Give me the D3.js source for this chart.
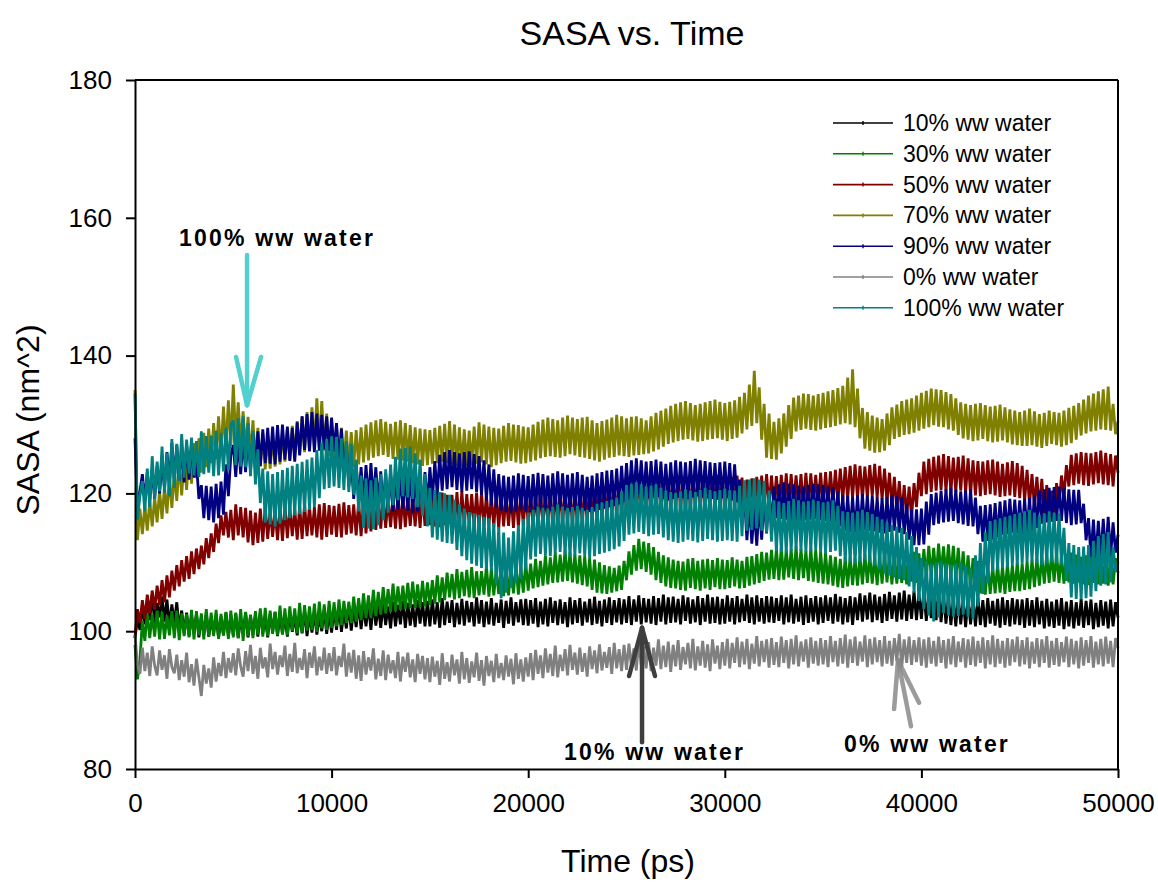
<!DOCTYPE html>
<html>
<head>
<meta charset="utf-8">
<title>SASA vs. Time</title>
<script src="https://cdn.jsdelivr.net/npm/d3@7"></script>
<style>
  body { margin: 0; background: #ffffff; }
  svg text { font-family: "Liberation Sans", Arial, Helvetica, sans-serif; fill: #000; }
</style>
</head>
<body>
<svg id="chart" width="1158" height="884"></svg>
<script>
// ---- Data: SASA (nm^2) sampled every 125 ps from 0 to 50000 ps ----
const timeStep = 125;

const seriesNames = ["10% ww water", "30% ww water", "50% ww water", "70% ww water",
                     "90% ww water", "0% ww water", "100% ww water"];
const seriesColors = ["#000000", "#008000", "#800000", "#808000", "#000080", "#808080", "#008080"];

const sasa10 = [
  99.0,101.8,100.2,103.6,101.0,104.4,101.6,105.3,101.2,104.1,102.0,105.0,101.4,104.6,100.8,103.9,101.1,104.2,100.3,103.0,
  99.6,102.7,99.3,102.2,99.8,102.5,99.1,102.0,99.5,102.6,99.2,101.8,99.7,102.4,99.0,102.1,99.4,102.7,99.2,102.3,
  99.4,102.5,99.0,101.9,99.6,102.7,99.1,102.2,99.5,102.4,99.2,102.9,99.7,102.0,99.1,102.6,99.8,102.8,99.3,102.5,
  99.6,102.3,99.2,102.7,99.9,102.1,99.4,102.6,99.7,103.0,99.3,102.4,99.8,102.8,99.5,102.2,100.0,103.1,99.6,102.7,
  99.8,103.2,100.2,103.5,99.9,103.0,100.4,103.8,100.1,103.4,100.6,104.1,100.3,103.6,100.7,103.9,100.2,104.2,100.8,103.7,
  100.5,104.0,100.9,103.6,100.4,104.3,100.7,103.8,101.0,104.4,100.5,104.1,100.8,103.9,100.6,104.5,101.1,104.2,100.7,104.4,
  100.7,104.6,101.0,104.2,100.5,104.8,100.9,104.3,101.2,104.5,100.6,104.1,101.0,104.7,100.8,104.4,101.3,104.2,100.7,104.9,
  101.1,104.5,100.6,104.3,101.0,104.8,100.8,104.1,101.2,104.6,100.5,104.4,101.1,104.9,100.8,104.2,101.3,104.6,100.9,104.7,
  100.8,104.5,101.1,104.8,100.6,104.3,101.0,104.7,100.7,104.9,101.2,104.4,100.9,104.6,101.1,104.2,100.6,104.9,101.0,104.5,
  101.2,104.8,100.8,104.3,101.3,104.7,100.9,105.0,101.1,104.4,100.7,104.6,101.2,104.9,100.9,104.5,101.3,104.8,101.0,104.6,
  101.2,105.1,100.9,104.6,101.4,105.2,101.0,104.8,101.3,104.7,101.1,105.1,100.9,104.8,101.4,105.3,101.0,104.9,101.2,105.0,
  101.3,104.7,101.0,105.2,101.5,104.9,101.1,104.6,101.3,105.1,100.9,104.8,101.4,105.3,101.1,104.9,101.2,105.0,101.0,104.7,
  101.1,105.2,101.4,104.8,101.0,105.1,101.3,104.7,101.5,105.3,101.2,104.9,101.0,105.2,101.4,104.8,101.1,105.1,101.3,105.0,
  101.2,104.8,101.5,105.2,101.0,104.9,101.3,105.3,101.1,104.7,101.4,105.0,100.9,105.2,101.2,104.8,101.4,105.1,101.0,104.9,
  101.2,105.2,101.5,104.9,101.1,105.4,101.4,105.0,101.0,104.8,101.3,105.1,100.9,104.9,101.6,105.5,101.4,105.2,101.7,105.6,
  101.3,105.3,101.6,105.0,101.2,105.4,101.5,105.7,101.8,105.2,101.4,105.6,101.7,105.9,101.5,105.3,101.8,105.8,101.6,105.5,
  101.8,105.9,101.5,105.5,101.9,106.2,101.6,105.7,101.3,105.3,101.1,105.1,100.9,104.8,100.7,105.0,101.0,104.7,100.6,104.9,
  101.0,104.6,100.7,104.9,100.9,104.5,100.6,104.8,101.1,104.4,100.8,104.7,100.5,104.9,100.9,104.5,100.7,104.8,101.0,104.6,
  100.9,104.6,100.5,104.8,100.8,104.5,100.6,104.9,101.0,104.4,100.4,104.7,100.7,104.3,100.5,104.6,100.8,104.8,100.3,104.3,
  100.7,104.5,100.4,104.2,100.8,104.7,100.5,104.4,100.9,104.6,100.3,104.1,100.6,104.5,100.8,104.3,100.4,104.6,100.7,104.2,
  102.0
];

const sasa30 = [
  98.0,93.0,95.8,101.5,98.6,102.7,99.0,102.4,99.2,103.0,98.8,102.8,98.9,102.3,99.4,102.9,99.0,103.0,98.7,102.6,
  99.3,102.5,99.1,103.1,98.8,102.9,99.4,102.6,98.8,103.2,99.2,102.7,99.3,103.1,98.9,102.5,99.4,102.8,98.9,103.0,
  99.1,102.7,99.0,103.2,98.6,102.8,99.3,102.4,99.0,102.9,99.5,103.3,99.2,103.4,99.3,103.0,99.6,102.8,99.4,103.7,
  99.5,103.3,99.4,103.6,100.0,103.3,99.7,104.1,99.8,103.8,100.1,103.6,100.2,104.0,99.9,104.3,100.4,103.9,100.2,104.4,
  100.5,104.2,100.7,104.6,100.9,104.4,101.2,104.3,101.2,105.0,101.4,104.8,101.6,105.5,101.9,105.2,101.9,106.0,102.2,105.7,
  102.4,106.4,102.6,106.1,102.8,106.9,102.9,106.5,103.1,106.6,103.2,107.0,103.3,107.2,103.4,106.8,103.5,107.3,103.6,107.1,
  103.8,107.4,104.0,108.1,104.2,107.8,104.5,108.5,104.9,108.3,104.6,109.0,104.8,108.6,105.1,108.9,104.9,109.3,104.8,108.7,
  105.2,108.7,105.3,109.5,105.0,109.1,105.2,108.9,105.4,109.4,105.1,109.6,105.2,109.2,105.5,109.7,105.3,109.4,105.6,109.9,
  105.9,109.8,106.2,110.5,106.4,110.2,106.6,111.0,106.8,110.7,107.0,111.4,107.1,111.1,107.2,111.8,107.3,111.5,107.1,111.2,
  106.9,111.0,106.7,110.9,106.5,110.6,106.0,110.4,105.6,110.0,105.5,109.6,105.4,109.4,105.6,109.2,105.8,109.5,106.0,110.2,
  107.4,111.6,108.2,112.5,108.8,113.4,109.0,113.0,108.6,112.8,108.2,112.2,107.4,111.5,107.0,111.0,106.5,110.7,106.3,110.4,
  106.2,110.2,106.0,110.1,105.9,110.5,106.3,110.6,106.1,110.2,105.9,110.4,106.2,110.5,106.0,110.3,106.4,110.6,106.1,110.4,
  106.1,110.3,106.3,110.7,106.5,110.4,106.2,110.2,106.3,110.8,106.6,110.9,106.8,111.2,107.0,111.5,107.3,111.4,107.5,111.8,
  107.6,112.0,107.4,112.2,107.5,111.8,107.8,111.9,107.6,112.3,107.4,112.0,107.7,111.7,107.3,112.1,107.2,111.8,107.0,111.6,
  106.9,111.4,106.8,111.0,106.6,110.8,106.4,110.5,106.3,110.7,106.5,110.8,106.7,110.6,106.6,110.9,106.8,111.2,107.0,111.0,
  106.9,110.9,106.7,111.1,106.9,111.3,107.1,111.0,106.8,111.2,106.9,111.0,107.0,111.4,106.8,111.1,107.2,111.5,107.0,111.3,
  107.6,111.9,107.8,112.4,108.0,112.1,107.9,112.7,108.1,112.3,107.9,112.6,107.8,112.4,107.5,112.1,107.2,111.6,106.8,111.0,
  106.2,110.6,105.8,110.2,105.5,109.8,105.3,109.6,105.4,109.4,105.5,109.7,105.6,109.4,105.4,109.8,105.7,109.6,105.8,110.0,
  105.8,109.8,106.0,110.1,106.1,110.4,106.4,110.6,106.6,110.9,106.9,111.2,107.0,111.5,107.2,111.3,107.0,111.0,106.9,111.2,
  107.1,111.4,106.9,111.1,107.1,110.8,106.8,111.0,106.7,111.3,107.0,110.9,106.8,111.2,106.9,110.8,106.6,111.0,106.8,110.6,
  108.5
];

const sasa50 = [
  99.0,103.2,101.2,104.5,101.8,105.3,102.6,105.9,103.1,106.6,103.8,107.4,104.2,108.1,104.9,108.8,105.9,109.6,106.5,110.3,
  107.2,110.9,107.6,111.6,108.3,112.0,109.0,112.4,109.7,113.5,110.6,114.2,111.5,115.6,112.8,116.8,113.9,117.3,113.6,117.6,
  113.2,118.4,113.9,118.0,113.6,117.9,112.9,117.5,112.5,117.2,112.8,117.8,113.0,118.1,113.4,117.6,113.7,117.5,113.2,118.0,
  113.1,118.3,113.5,117.9,113.8,117.8,113.3,118.2,113.4,118.5,113.8,118.2,113.9,118.0,113.6,118.4,113.3,118.6,113.7,118.3,
  114.0,118.2,113.7,118.5,113.6,118.7,114.0,118.3,114.2,118.4,113.9,118.8,113.8,119.0,114.2,118.7,114.5,119.3,114.7,119.0,
  114.9,119.6,115.0,119.3,115.1,119.4,114.9,119.7,114.8,119.8,115.1,119.4,115.3,119.5,115.2,119.9,115.0,120.0,115.3,119.6,
  115.4,119.7,115.2,120.0,115.1,120.1,115.4,119.8,115.6,119.8,115.3,120.2,115.2,120.3,115.4,119.9,115.5,119.9,115.2,120.1,
  115.0,120.2,115.3,119.8,115.4,119.6,115.1,119.9,114.9,120.0,115.2,119.8,115.3,119.7,115.0,120.1,115.1,120.2,115.4,119.9,
  115.6,119.9,115.3,120.2,115.2,120.4,115.5,120.0,115.7,120.1,115.4,120.3,115.3,120.5,115.6,120.2,115.8,120.2,115.5,120.4,
  115.4,120.6,115.7,120.3,115.9,120.8,116.1,120.6,116.3,121.0,116.4,120.9,116.6,121.3,116.7,121.1,116.9,121.5,117.0,121.6,
  117.2,121.8,117.4,121.9,117.5,122.1,117.3,121.8,117.3,121.9,117.6,122.2,117.7,122.4,117.5,122.1,117.4,122.0,117.7,122.3,
  117.8,122.5,117.6,122.2,117.5,122.2,117.8,122.4,117.9,122.6,117.7,122.3,117.6,122.3,117.8,122.5,117.8,122.7,117.6,122.4,
  117.5,122.2,117.7,122.4,117.9,122.6,117.6,122.3,117.4,122.0,117.5,122.2,117.6,122.4,117.9,122.6,118.0,122.8,118.1,122.6,
  118.2,122.5,118.0,122.7,117.9,122.9,118.1,122.8,118.3,122.6,118.2,122.8,118.0,123.0,118.2,122.9,118.4,122.7,118.3,123.0,
  118.1,123.1,118.3,123.2,118.5,123.4,118.8,123.6,119.0,123.8,119.2,124.0,119.4,124.2,119.3,124.0,119.2,123.9,119.4,124.1,
  119.6,124.3,119.3,124.0,119.1,123.6,118.7,123.0,118.2,122.4,117.5,121.8,116.8,121.2,116.6,121.0,116.5,121.5,118.0,123.0,
  119.6,124.6,119.9,125.0,120.2,125.3,120.4,125.5,120.5,125.7,120.3,125.4,120.1,125.2,120.2,125.3,120.4,125.5,120.1,125.1,
  119.8,124.8,119.7,124.7,119.6,124.6,119.8,124.8,119.9,124.9,119.7,124.6,119.5,124.3,119.6,124.5,119.7,124.7,119.5,124.4,
  119.3,124.0,118.9,123.4,118.4,122.8,118.0,122.4,117.6,122.1,116.6,121.2,115.8,120.4,116.8,121.5,117.9,122.6,119.5,124.1,
  121.0,125.6,121.2,125.8,121.4,126.0,121.2,125.9,121.1,125.8,121.3,126.0,121.5,126.2,121.3,125.9,121.2,125.7,121.0,125.5,
  123.0
];

const sasa70 = [
  135.0,113.2,117.8,114.1,118.2,114.6,118.9,115.2,119.4,115.8,120.4,116.3,121.0,117.1,122.3,117.9,123.1,118.9,124.6,119.7,
  125.2,120.5,126.1,121.4,127.3,122.2,128.0,123.0,128.8,123.8,129.4,124.4,130.2,125.0,131.2,125.6,132.6,126.3,133.5,126.9,
  135.8,127.6,133.2,126.8,131.9,125.9,131.1,125.1,130.6,124.4,129.5,123.9,128.7,123.5,128.4,123.6,128.3,123.9,128.6,124.2,
  129.0,124.6,129.3,124.9,129.8,125.3,130.5,125.7,131.2,126.0,131.8,126.4,132.5,126.8,133.8,127.1,133.4,126.2,131.6,125.4,
  130.4,124.7,129.9,124.3,129.5,124.1,129.1,123.9,128.9,123.8,129.2,124.2,129.6,124.5,130.0,124.8,130.3,125.2,130.6,125.4,
  130.8,125.6,130.4,125.3,130.1,125.0,130.4,124.9,130.6,124.8,130.2,124.6,129.9,124.4,129.6,124.2,129.4,124.0,129.3,124.1,
  129.2,124.3,129.5,124.4,129.8,124.6,130.1,124.4,130.5,124.2,130.0,124.0,129.6,123.9,129.3,124.0,129.1,124.1,129.7,124.3,
  130.3,124.5,130.0,124.2,129.7,123.8,129.5,124.1,129.4,124.4,129.8,124.6,130.2,124.7,130.0,124.5,129.9,124.3,129.7,124.4,
  129.6,124.6,130.0,124.8,130.4,125.1,130.7,125.3,131.0,125.4,130.8,125.3,130.6,125.2,131.0,125.4,131.3,125.7,131.0,125.5,
  130.8,125.3,131.0,125.2,131.1,125.0,130.6,124.8,130.2,124.6,130.5,124.9,130.7,125.2,131.0,125.3,131.4,125.5,131.2,125.4,
  130.9,125.3,131.1,125.5,131.2,125.6,130.9,125.7,130.6,125.8,131.2,126.1,131.7,126.4,132.0,126.8,132.3,127.2,132.7,127.4,
  133.0,127.6,133.2,127.8,133.4,127.9,133.1,127.7,132.8,127.5,133.0,127.6,133.2,127.8,133.4,127.9,133.6,128.0,133.3,127.8,
  133.1,127.6,133.3,127.9,133.5,128.1,134.0,128.7,134.6,129.3,135.8,129.8,137.8,130.2,135.4,127.8,133.0,125.2,131.6,125.0,
  130.4,124.9,130.9,125.8,131.6,126.8,132.8,127.9,133.9,129.0,134.2,129.2,134.5,129.4,134.4,129.2,134.2,129.1,134.4,129.3,
  134.6,129.5,134.8,129.6,135.0,129.8,135.3,130.0,135.6,130.2,136.8,130.0,138.0,129.6,135.2,128.0,132.4,126.5,131.8,126.2,
  131.3,125.9,131.0,126.0,130.8,126.2,131.6,127.0,132.5,127.9,132.9,128.2,133.4,128.5,133.6,128.6,133.8,128.8,134.2,129.1,
  134.6,129.4,134.9,129.6,135.2,129.9,135.1,129.7,135.0,129.6,134.7,129.3,134.4,129.1,133.8,128.5,133.2,128.0,133.0,127.8,
  132.8,127.6,133.0,127.7,133.1,127.9,132.8,127.6,132.6,127.4,132.7,127.5,132.9,127.7,132.5,127.4,132.2,127.1,132.0,127.0,
  131.8,126.9,132.0,126.9,132.3,127.0,131.9,126.8,131.5,126.6,131.7,126.9,132.0,127.2,131.8,127.0,131.7,126.8,132.0,127.0,
  132.4,127.3,132.7,127.8,133.1,128.4,133.6,128.7,134.2,129.0,134.5,129.1,134.8,129.3,135.1,129.2,135.5,129.1,133.0,128.6,
  130.5
];

const sasa90 = [
  128.0,117.6,120.2,122.8,118.9,123.1,119.0,123.4,119.2,124.0,120.0,124.5,120.8,126.0,121.5,127.3,122.1,127.0,121.8,126.8,
  121.6,127.1,122.0,127.4,122.3,124.5,119.2,121.2,116.4,121.1,116.1,121.0,115.8,121.4,116.4,121.7,116.9,124.2,119.6,125.6,
  127.0,122.4,127.6,122.8,128.2,123.1,128.4,123.3,128.6,123.5,129.0,124.0,129.3,124.4,129.5,124.3,129.7,124.2,129.9,124.6,
  130.0,124.9,129.7,124.7,129.5,124.6,130.3,125.5,131.2,126.3,131.5,126.1,131.8,126.0,131.6,126.2,131.4,126.4,131.2,126.2,
  131.0,126.1,130.2,124.4,129.4,122.8,127.0,121.0,124.6,119.2,124.2,118.9,123.8,118.6,124.1,118.8,124.4,119.0,123.8,118.4,
  123.2,117.9,123.0,117.6,122.9,117.4,122.7,117.6,122.6,117.8,122.8,117.5,123.1,117.2,122.7,117.4,122.4,117.6,123.1,118.3,
  123.8,119.0,124.7,119.7,125.6,120.4,126.0,120.6,126.3,120.9,126.0,120.5,125.8,120.2,126.0,120.4,126.1,120.6,125.7,120.2,
  125.4,119.8,124.8,119.0,124.2,118.3,123.5,117.9,122.8,117.5,122.6,117.3,122.4,117.2,122.6,117.4,122.9,117.6,122.7,117.4,
  122.5,117.3,122.8,117.6,123.0,117.8,122.8,117.6,122.6,117.5,122.9,117.7,123.2,117.9,122.9,117.6,122.7,117.4,122.9,117.6,
  123.1,117.7,122.7,117.5,122.4,117.3,122.6,117.4,122.9,117.6,123.1,117.8,123.3,118.0,123.4,118.2,123.6,118.4,124.0,118.8,
  124.4,119.2,124.8,119.5,125.1,119.8,124.8,119.5,124.6,119.3,124.7,119.4,124.9,119.5,124.6,119.2,124.3,119.0,124.5,119.2,
  124.8,119.4,124.6,119.3,124.5,119.2,124.7,119.4,125.0,119.6,124.8,119.4,124.7,119.3,124.5,119.2,124.4,119.1,124.5,119.3,
  124.6,119.4,124.4,119.0,124.2,118.7,122.0,116.0,119.6,113.2,118.6,112.7,117.8,112.4,118.6,113.3,119.4,114.2,120.2,115.3,
  121.0,116.4,121.3,116.3,121.6,116.2,121.4,116.0,121.3,115.9,121.1,116.0,121.0,116.1,121.2,116.2,121.4,116.3,121.3,116.1,
  121.2,116.0,121.0,115.9,120.9,115.8,120.3,115.2,119.7,114.6,119.6,114.4,119.5,114.3,119.7,114.5,119.9,114.7,119.7,114.6,
  119.6,114.5,119.4,114.3,119.3,114.2,119.5,114.4,119.8,114.6,119.6,114.3,119.4,114.1,118.5,113.3,117.6,112.5,117.7,112.5,
  117.8,112.6,118.8,114.0,119.9,115.4,120.1,115.6,120.4,115.8,120.6,115.9,120.8,116.0,120.5,115.7,120.3,115.5,120.4,115.3,
  120.6,115.2,119.4,114.1,118.2,113.0,118.3,113.1,118.4,113.3,118.6,113.6,118.8,114.0,119.0,114.1,119.2,114.3,119.1,114.2,
  119.0,114.1,119.2,114.3,119.3,114.5,119.8,115.0,120.4,115.6,120.6,115.8,120.8,115.9,120.9,116.0,121.0,116.0,120.8,115.7,
  120.6,115.4,120.5,115.5,120.5,115.7,118.5,113.2,116.4,110.8,116.2,110.6,116.0,110.5,116.3,110.7,116.6,110.9,115.8,111.4,
  114.0
];

const sasa0 = [
  99.5,95.1,93.8,97.6,94.2,96.9,93.5,97.8,95.0,93.6,97.2,94.4,96.5,93.1,97.4,94.8,93.9,96.6,92.9,95.8,
  93.4,96.9,92.6,95.2,92.1,96.0,93.3,90.6,95.1,92.4,94.6,91.8,96.2,92.7,95.4,93.5,97.0,93.2,96.1,94.0,
  96.8,93.6,97.5,94.9,93.4,97.1,94.2,98.0,93.8,96.4,93.1,97.6,94.6,96.2,93.3,98.2,94.5,97.0,93.7,96.5,
  94.8,97.9,93.5,96.7,94.1,98.3,93.9,96.1,94.4,97.4,93.2,96.9,94.7,97.8,93.6,96.3,94.3,97.6,93.8,96.8,
  94.2,97.7,93.6,96.4,94.8,98.2,93.4,96.9,94.0,97.3,93.1,96.5,92.8,97.1,93.7,96.2,94.3,97.5,93.0,96.0,
  93.5,97.2,92.9,96.6,93.9,95.8,93.2,97.0,92.7,96.3,94.1,96.9,93.3,95.9,92.6,96.7,93.8,96.4,93.0,96.1,
  92.6,96.3,93.4,95.7,92.2,96.8,93.1,95.5,92.7,96.6,93.6,95.9,92.4,97.0,93.0,96.1,92.5,95.6,93.3,96.9,
  92.8,95.8,92.1,96.4,93.5,95.7,92.6,96.7,93.2,95.4,92.9,96.5,93.4,96.0,92.3,96.8,93.1,95.9,92.7,96.2,
  93.4,96.8,92.9,97.3,93.8,96.5,93.2,97.5,94.0,96.7,93.5,97.9,93.3,96.6,94.2,97.4,93.6,98.0,94.4,96.9,
  93.7,97.6,94.1,96.8,93.4,97.8,94.5,97.2,93.9,98.1,94.3,97.0,94.7,97.7,93.8,98.3,94.6,97.4,94.2,98.0,
  94.4,98.2,94.9,97.5,94.3,98.6,95.1,97.8,94.6,98.4,94.2,97.6,95.0,98.8,94.5,97.9,94.8,98.5,94.1,98.0,
  94.9,98.7,94.4,97.7,95.2,98.3,94.6,98.9,94.3,97.8,95.0,98.6,94.7,98.1,94.2,98.8,95.3,97.9,94.5,98.4,
  95.0,98.9,94.6,98.3,95.4,99.1,94.8,98.5,95.2,98.9,94.5,98.2,95.3,99.3,94.9,98.6,95.5,98.8,94.7,99.0,
  95.1,98.4,94.8,99.2,95.4,98.7,94.6,98.9,95.2,99.4,94.9,98.5,95.6,98.8,94.7,99.1,95.3,98.6,95.0,99.0,
  95.2,98.7,94.8,99.3,95.5,98.6,94.9,99.0,95.3,99.5,94.7,98.8,95.4,99.2,95.0,98.5,95.6,99.4,94.8,98.9,
  95.2,99.1,95.5,98.7,94.9,99.3,95.3,98.6,95.0,99.0,95.7,99.6,94.8,98.8,95.4,99.2,95.1,98.7,95.5,99.1,
  95.0,98.8,94.7,99.1,95.3,98.6,94.9,99.2,95.4,98.7,94.6,98.9,95.2,99.3,94.8,98.5,95.5,99.0,94.7,98.8,
  95.1,99.2,94.9,98.6,95.4,99.1,94.6,98.7,95.2,99.4,94.8,98.9,95.3,98.6,94.7,99.0,95.0,98.8,95.5,99.2,
  94.9,98.7,95.2,99.1,94.6,98.5,95.3,99.0,94.8,98.8,95.4,99.3,94.7,98.6,95.1,99.0,94.9,98.4,95.5,99.2,
  94.8,98.9,95.2,98.6,94.6,99.1,95.0,98.7,95.4,99.3,94.7,98.5,95.2,98.9,94.9,99.2,95.3,98.6,94.8,99.0,
  97.5
];

const sasa100 = [
  134.5,116.2,119.6,121.8,117.4,123.6,118.0,125.4,119.2,124.6,120.3,126.8,120.1,125.9,119.6,127.9,120.8,127.2,121.8,128.6,
  122.3,127.8,122.9,128.1,122.6,127.6,122.4,129.0,122.8,128.3,123.0,128.4,122.5,129.1,122.6,128.8,123.2,129.5,123.4,130.0,
  130.6,124.1,130.9,123.9,131.2,123.8,130.2,122.5,129.1,121.3,126.4,118.6,123.6,115.8,123.2,115.5,122.8,115.2,123.1,115.6,
  123.4,116.1,123.7,116.4,124.0,116.8,124.3,117.0,124.6,117.3,124.9,117.6,125.2,118.0,126.3,119.3,127.4,120.6,127.9,120.8,
  128.3,121.0,128.2,120.8,128.0,120.5,127.6,120.2,127.2,119.8,124.9,117.4,122.6,115.0,122.2,114.9,121.9,114.8,122.3,115.4,
  122.8,116.1,123.5,117.2,124.2,118.3,125.3,119.0,126.5,119.6,126.6,119.4,126.8,119.2,125.8,118.0,124.9,116.8,122.8,115.2,
  120.8,113.6,120.5,113.3,120.2,113.0,120.0,112.8,119.8,112.7,119.1,111.8,118.4,110.9,117.8,110.3,117.3,109.8,117.1,109.5,
  116.9,109.2,116.6,109.0,116.4,108.8,115.7,106.8,115.1,104.8,114.3,105.6,113.6,106.3,114.5,107.0,115.4,107.6,116.3,109.0,
  117.2,110.4,117.6,110.8,118.1,111.2,117.9,111.0,117.8,110.9,118.1,111.2,118.4,111.5,118.1,111.1,117.9,110.8,118.0,111.0,
  118.2,111.3,117.9,110.9,117.6,110.6,118.0,110.9,118.5,111.2,118.7,111.4,118.9,111.6,119.1,111.9,119.4,112.3,120.3,113.1,
  121.2,114.0,121.4,114.2,121.6,114.4,121.3,114.1,121.0,113.8,121.1,114.0,121.3,114.1,120.8,113.6,120.4,113.2,120.2,113.0,
  120.1,112.8,120.3,113.0,120.6,113.3,120.4,113.1,120.2,112.9,120.5,113.1,120.8,113.4,120.5,113.2,120.3,113.0,120.5,113.1,
  120.7,113.2,120.5,113.1,120.4,113.0,121.1,113.8,121.9,114.6,122.0,114.7,122.2,114.9,122.0,114.6,121.8,114.3,120.4,113.0,
  119.0,111.6,118.8,111.5,118.6,111.4,118.9,111.6,119.2,111.9,119.0,111.7,118.8,111.5,118.9,111.6,119.1,111.8,118.9,111.5,
  118.7,111.3,118.8,111.5,119.0,111.7,118.2,110.9,117.4,110.1,117.3,110.0,117.2,109.8,117.4,110.0,117.6,110.3,117.3,110.0,
  117.0,109.6,116.6,109.0,116.2,108.4,115.8,108.1,115.4,107.8,115.2,107.6,115.0,107.4,114.4,106.5,113.8,105.6,112.2,104.4,
  110.6,103.2,110.2,102.3,109.8,101.4,110.0,102.0,110.2,102.6,109.9,102.3,109.6,102.1,109.8,102.2,110.0,102.4,109.6,102.1,
  109.2,101.8,111.0,103.6,112.8,105.4,114.4,107.0,116.0,108.6,116.2,108.9,116.4,109.2,116.6,109.3,116.8,109.5,117.0,109.6,
  117.2,109.8,117.4,110.0,117.6,110.1,117.2,109.8,116.9,109.6,117.1,109.8,117.4,110.0,117.2,109.8,117.1,109.7,115.0,107.3,
  112.8,104.9,112.5,104.7,112.2,104.6,112.3,104.8,112.5,105.0,113.1,105.8,113.8,106.6,114.1,106.8,114.4,107.1,112.2,108.6,
  110.0
];

const seriesValues = [sasa10, sasa30, sasa50, sasa70, sasa90, sasa0, sasa100];

// Axis ticks
const xTicks = [0, 10000, 20000, 30000, 40000, 50000];
const yTicks = [80, 100, 120, 140, 160, 180];

// Call-out annotations, in data units (ps, nm^2)
const calloutLabels = ["100% ww water", "10% ww water", "0% ww water"];
const calloutTextAt = [[2240, 155.9], [21820, 81.3], [36060, 82.5]];
const calloutColors = ["#52d0d0", "#3e3e3e", "#8a8a8a"];
const calloutTail = [[5700, 154.6], [25790, 83.9], [39470, 86.2]];
const calloutTip = [[5700, 132.8], [25790, 100.5], [38810, 95.8]];
const calloutHeadL = [[5140, 139.8], [25130, 93.5], [38610, 88.7]];
const calloutHeadR = [[6410, 139.8], [26450, 93.5], [39880, 89.6]];

// ---- Layout ----
const svg = d3.select("#chart");
const margin = { left: 135, right: 40, top: 80, bottom: 115 };
const W = 1158, H = 884;

const x = d3.scaleLinear().domain([0, 50000]).range([margin.left, W - margin.right]);
const y = d3.scaleLinear().domain([80, 180]).range([H - margin.bottom, margin.top]);

// Title
svg.append("text")
  .attr("x", 632).attr("y", 45)
  .attr("text-anchor", "middle")
  .style("font-size", "34px")
  .text("SASA vs. Time");

// Series lines: dense trajectories whose fluctuations read as a solid band
const line = d3.line()
  .x((d, i) => x(i * timeStep))
  .y(d => y(d));

const plot = svg.append("g");
seriesValues.forEach((vals, k) => {
  plot.append("path")
    .datum(vals)
    .attr("fill", "none")
    .attr("stroke", seriesColors[k])
    .attr("stroke-width", 2.8)
    .attr("stroke-linejoin", "bevel")
    .attr("d", line);
});

// Frame (top and right)
svg.append("line")
  .attr("x1", x(0)).attr("x2", x(50000)).attr("y1", y(180)).attr("y2", y(180))
  .attr("stroke", "#000").attr("stroke-width", 2);
svg.append("line")
  .attr("x1", x(50000)).attr("x2", x(50000)).attr("y1", y(180)).attr("y2", y(80))
  .attr("stroke", "#000").attr("stroke-width", 2);

// Axes
const xAxis = svg.append("g")
  .attr("transform", `translate(0,${y(80)})`)
  .call(d3.axisBottom(x).tickValues(xTicks).tickFormat(d3.format("d"))
    .tickSize(9).tickSizeOuter(0).tickPadding(16));
xAxis.selectAll("text").style("font-size", "26px").attr("fill", "#000");

const yAxis = svg.append("g")
  .attr("transform", `translate(${x(0)},0)`)
  .call(d3.axisLeft(y).tickValues(yTicks).tickFormat(d3.format("d"))
    .tickSize(9).tickSizeOuter(0).tickPadding(14));
yAxis.selectAll("text").style("font-size", "26px").attr("fill", "#000");

[xAxis, yAxis].forEach(g => {
  g.select(".domain").attr("stroke", "#000").attr("stroke-width", 2);
  g.selectAll(".tick line").attr("stroke", "#000").attr("stroke-width", 2);
});

// Axis titles
svg.append("text")
  .attr("x", 628).attr("y", 872)
  .attr("text-anchor", "middle")
  .style("font-size", "32px")
  .text("Time (ps)");

svg.append("text")
  .attr("transform", "translate(39,420) rotate(-90)")
  .attr("text-anchor", "middle")
  .style("font-size", "32px")
  .text("SASA (nm^2)");

// Legend
const legend = svg.append("g").attr("transform", "translate(833,123)");
seriesNames.forEach((name, k) => {
  const row = legend.append("g").attr("transform", `translate(0,${k * 30.8})`);
  row.append("line")
    .attr("x1", 0).attr("x2", 60).attr("y1", 0).attr("y2", 0)
    .attr("stroke", seriesColors[k]).attr("stroke-width", 1.6);
  row.append("line")
    .attr("x1", 30).attr("x2", 30).attr("y1", -2).attr("y2", 2)
    .attr("stroke", seriesColors[k]).attr("stroke-width", 1.4);
  row.append("text")
    .attr("x", 70).attr("y", 8)
    .style("font-size", "23px")
    .text(name);
});

// Call-outs: arrows and bold labels
const notes = svg.append("g");
calloutLabels.forEach((label, k) => {
  const col = calloutColors[k];
  const tip = calloutTip[k];
  const segs = [[calloutTail[k], tip], [calloutHeadL[k], tip], [calloutHeadR[k], tip]];
  segs.forEach(([a, b]) => {
    notes.append("line")
      .attr("x1", x(a[0])).attr("y1", y(a[1]))
      .attr("x2", x(b[0])).attr("y2", y(b[1]))
      .attr("stroke", col).attr("stroke-width", 4.5)
      .attr("stroke-linecap", "round")
      .attr("opacity", k === 2 ? 0.85 : 1);
  });
  notes.append("text")
    .attr("x", x(calloutTextAt[k][0])).attr("y", y(calloutTextAt[k][1]))
    .style("font-size", "23px")
    .style("font-weight", "bold")
    .style("letter-spacing", "2.2px")
    .text(label);
});
</script>
</body>
</html>
